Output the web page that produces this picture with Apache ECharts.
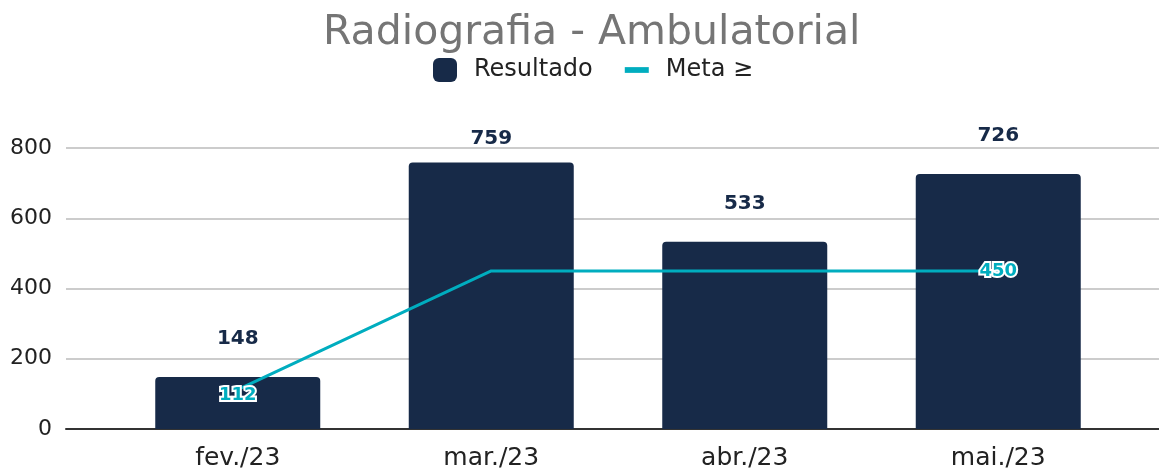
<!DOCTYPE html>
<html>
<head>
<meta charset="utf-8">
<script src="https://cdn.jsdelivr.net/npm/echarts@6/dist/echarts.min.js"></script>
<style>
  html, body { margin: 0; padding: 0; background: #fff; }
  #main { width: 1159px; height: 471px; }
</style>
</head>
<body>
<div id="main"></div>
<script>
var categories = ['fev./23', 'mar./23', 'abr./23', 'mai./23'];
var resultado = [148, 759, 533, 726];
var meta = [112, 450, 450, 450];
var yTicks = [0, 200, 400, 600, 800];

var FONT = 'DejaVu Sans';
var navy = '#172a48';
var teal = '#00adbf';

// rótulos da meta só no primeiro e no último ponto
var metaData = meta.map(function (v, i) {
    var show = (i === 0 || i === meta.length - 1);
    return { value: v, label: { show: show, offset: i === 0 ? [0, 6] : [0, 0] } };
});

var barData = resultado.map(function (v, i) {
    return { value: v, label: { distance: v === 759 ? 14 : 28 } };
});

var myChart = echarts.init(document.getElementById('main'));
var option = {
    animation: false,
    title: {
        text: 'Radiografia - Ambulatorial',
        left: 323,
        top: 13,
        padding: 0,
        textStyle: { fontFamily: FONT, fontSize: 41, fontWeight: 'normal', color: '#757575' }
    },
    legend: {
        top: 58,
        left: 433,
        padding: 0,
        itemWidth: 24,
        itemHeight: 24,
        itemGap: 32,
        textStyle: { fontFamily: FONT, fontSize: 24, color: '#222', padding: [0, 0, 0, 12] },
        data: [
            { name: 'Resultado', icon: 'roundRect' },
            { name: 'Meta ≥', icon: 'path://M0,0 L25,0 L25,6 L0,6 Z' }
        ]
    },
    grid: [
        { left: 66, right: 0, top: 148, bottom: 42 },
        { left: 111, right: 34, top: 148, bottom: 42 }
    ],
    xAxis: [
        {
            gridIndex: 0, type: 'category', data: categories,
            axisLine: { lineStyle: { color: '#333', width: 2 } },
            axisTick: { show: false }, axisLabel: { show: false }
        },
        {
            gridIndex: 1, type: 'category', data: categories,
            axisLine: { show: false }, axisTick: { show: false },
            axisLabel: { fontFamily: FONT, fontSize: 25, color: '#222', margin: 17 }
        }
    ],
    yAxis: [
        {
            gridIndex: 0, type: 'value', min: yTicks[0], max: yTicks[yTicks.length - 1], interval: 200,
            axisLabel: { fontFamily: FONT, fontSize: 22, color: '#222', margin: 14 },
            splitLine: { lineStyle: { color: '#cccccc', width: 2 } },
            axisLine: { show: false }, axisTick: { show: false }
        },
        {
            gridIndex: 1, type: 'value', min: yTicks[0], max: yTicks[yTicks.length - 1], interval: 200,
            show: false
        }
    ],
    series: [
        {
            name: 'Resultado',
            type: 'bar',
            xAxisIndex: 1, yAxisIndex: 1,
            barWidth: 165,
            data: barData,
            itemStyle: { color: navy, borderRadius: [4, 4, 0, 0] },
            label: {
                show: true, position: 'top',
                fontFamily: FONT, fontSize: 20, fontWeight: 'bold', color: navy
            }
        },
        {
            name: 'Meta ≥',
            type: 'line',
            xAxisIndex: 1, yAxisIndex: 1,
            data: metaData,
            symbol: 'circle',
            symbolSize: 1,
            showSymbol: true,
            lineStyle: { color: teal, width: 3 },
            itemStyle: { color: teal },
            label: {
                position: 'inside',
                fontFamily: FONT, fontSize: 18, fontWeight: 'bold', color: teal,
                textBorderColor: '#fff', textBorderWidth: 4
            },
            z: 5
        }
    ]
};
myChart.setOption(option);
</script>
</body>
</html>
